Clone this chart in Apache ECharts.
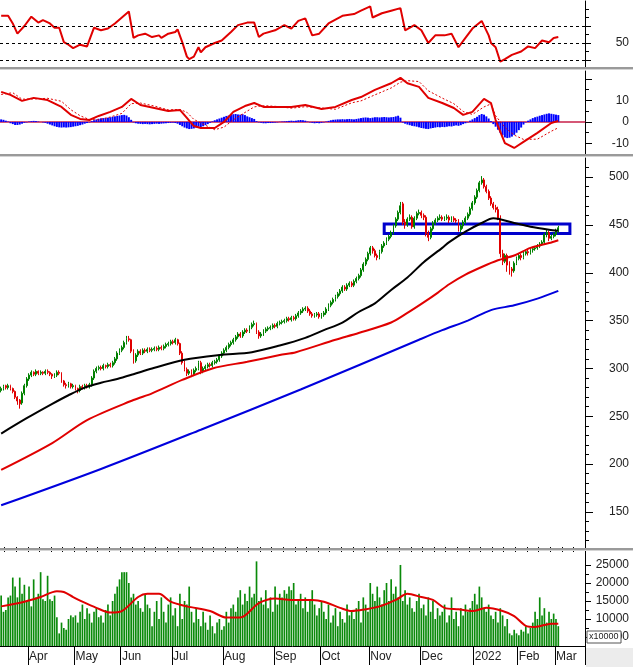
<!DOCTYPE html>
<html>
<head>
<meta charset="utf-8">
<script src="https://cdn.jsdelivr.net/npm/echarts@6/dist/echarts.min.js"></script>
<style>
html, body { margin: 0; padding: 0; background: #fff; }
#main { width: 633px; height: 667px; }
</style>
</head>
<body>
<div id="main"></div>
<script>
// x axis: one slot per trading day, month labels at the first day of each month
var monthLabels = ['Apr', 'May', 'Jun', 'Jul', 'Aug', 'Sep', 'Oct', 'Nov', 'Dec', '2022', 'Feb', 'Mar'];
var monthStart = [12, 32, 52, 74, 96, 118, 138, 159, 181, 204, 223, 239];
var slotCount = 252;

// daily prices
var opens = [
    277,279,282,280,282,279,276,270,267,264, 274,282,289,293,296,294,297,295,296,295,
    297,296,294,292,293,296,295,287,283,282, 284,281,282,279,277,281,280,282,281,283,
    290,297,300,301,300,303,302,304,303,306, 310,316,319,322,327,331,330,318,308,314,
    318,316,319,318,320,319,320,321,320,322, 321,323,325,326,328,327,330,326,316,306,
    299,295,297,294,298,300,306,297,300,302, 304,303,306,307,309,313,316,319,322,325,
    327,330,333,336,334,338,340,339,343,346, 347,338,334,336,339,341,342,343,345,344,
    347,348,349,350,352,351,353,352,355,358, 360,362,363,360,357,355,356,357,354,356,
    358,362,366,369,372,375,378,381,385,383, 387,389,387,391,394,397,403,409,414,420,
    426,423,418,416,422,428,431,435,438,442, 449,456,463,472,453,450,456,458,448,457,
    462,463,460,458,441,437,446,452,455,457, 458,456,457,458,455,457,455,454,445,449,
    453,457,461,467,473,479,486,494,497,490, 485,478,472,468,466,457,420,412,418,408,
    404,402,410,415,418,416,420,422,421,424, 425,426,428,430,432,440,442,436,438,440,444
];
var closes = [
    279,281,280,282,279,276,270,266,263,274, 282,289,293,296,294,297,295,296,295,297,
    296,294,292,293,296,295,287,283,282,284, 281,282,279,277,281,280,282,281,283,290,
    297,300,301,300,303,302,304,303,306,310, 316,319,322,327,331,330,318,308,314,318,
    316,319,318,320,319,320,321,320,322,321, 323,325,326,328,327,330,326,316,306,299,
    295,297,294,298,300,306,297,300,302,304, 303,306,307,309,313,316,319,322,325,327,
    330,333,336,334,338,340,339,343,346,347, 338,334,336,339,341,342,343,345,344,347,
    348,349,350,352,351,353,352,355,358,360, 362,363,360,357,355,356,357,354,356,358,
    362,366,369,372,375,378,381,385,383,387, 389,387,391,394,397,403,409,414,420,426,
    423,418,416,422,428,431,435,438,442,449, 456,463,470,453,450,456,458,448,457,462,
    463,460,458,441,437,446,452,455,457,458, 456,457,458,455,457,455,454,445,449,453,
    457,461,467,473,479,486,494,497,490,485, 478,472,468,466,457,420,412,418,408,404,
    402,410,415,418,416,420,422,421,424,425, 426,428,430,432,440,442,436,438,440,444,447
];
var lows = [
    275,277,278,278,277,274,268,262,258,262, 272,280,287,291,292,292,293,293,293,293,
    294,292,289,290,291,293,285,281,279,280, 279,279,277,274,275,278,278,279,279,281,
    288,295,298,298,298,300,300,301,301,304, 308,314,317,320,325,328,316,305,306,312,
    314,314,316,316,317,317,318,318,318,319, 319,321,323,324,325,325,324,314,304,297,
    292,293,291,292,296,298,294,295,298,300, 301,301,304,305,307,311,314,317,320,323,
    325,328,331,332,332,336,337,337,341,344, 336,331,332,334,337,339,340,341,342,342,
    345,346,347,348,349,349,350,350,353,356, 358,360,358,355,353,353,354,352,352,354,
    356,360,364,367,370,373,376,379,381,381, 385,385,385,389,392,395,401,407,412,418,
    420,416,413,414,420,426,429,433,436,440, 447,454,461,450,446,448,454,446,446,455,
    460,457,455,438,433,435,444,450,453,455, 454,454,455,452,453,453,452,443,442,446,
    451,455,459,465,471,477,484,492,488,483, 476,470,466,463,455,416,408,410,401,398,
    396,400,408,413,413,414,418,418,419,421, 423,424,426,428,430,437,433,434,436,438,442
];
var highs = [
    281,283,283,284,283,280,277,271,268,276, 284,291,295,298,297,299,298,298,297,299,
    299,297,295,295,298,298,296,288,285,286, 285,284,283,280,283,283,284,284,285,292,
    299,302,303,303,305,304,306,306,308,312, 318,321,324,329,334,334,331,320,316,320,
    320,321,321,322,322,322,323,323,324,324, 325,327,328,330,330,332,331,327,318,308,
    301,299,299,300,302,308,308,302,304,306, 306,308,309,311,315,318,321,324,327,329,
    332,335,338,338,340,342,342,345,348,350, 348,340,338,341,343,344,345,347,347,349,
    350,351,352,354,354,355,355,357,360,362, 364,365,365,362,359,358,359,359,358,360,
    364,368,371,374,377,380,383,387,387,389, 391,391,393,396,399,405,411,416,422,428,
    428,425,420,424,430,433,437,440,444,451, 458,465,474,474,456,458,461,460,459,464,
    466,465,462,460,444,448,454,457,459,461, 460,459,461,460,459,459,457,456,451,455,
    459,463,469,475,481,488,496,501,499,492, 487,480,474,471,469,460,424,420,420,412,
    406,412,417,420,420,422,424,425,426,427, 428,430,432,434,442,445,444,440,442,446,449
];

// moving averages on the price panel, read as [day, value]
var maBlack = [[0,232],[11,248],[22,263],[29,272],[36,280],[43,285],[50,289],[57,294],[65,300],[79,309],
    [94,314],[108,317],[120,324],[131,332],[139,340],[147,348],[154,359],[161,368],[168,382],[175,395],
    [182,411],[190,426],[193,432],[200,443],[207,452],[212,457],[221,452],[228,448],[236,445],[240,444]];
var maRed = [[0,194],[22,222],[37,246],[57,267],[65,274],[78,288],[91,300],[106,307],[120,314],[127,317],
    [144,330],[154,337],[168,348],[175,358],[182,369],[188,379],[193,388],[200,398],[207,406],[214,413],
    [221,418],[228,426],[236,431],[240,434]];
var maBlue = [[0,157],[43,195],[86,236],[129,278],[180,330],[190,340],[201,350],[211,361],[221,366],
    [231,373],[240,381]];

// resistance zone box
var zoneFrom = 165, zoneTo = 245, zoneLow = 441, zoneHigh = 451;

// RSI
var rsiPts = [[0,82],[3,82],[5,73],[7,61],[10,70],[13,81],[16,74],[18,77],[21,73],[23,68],[25,68],[27,51],
    [29,48],[31,44],[34,48],[37,46],[40,68],[43,65],[46,67],[49,73],[52,80],[55,87],[57,56],[59,59],
    [62,61],[65,57],[68,59],[69,56],[72,61],[75,63],[76,66],[78,51],[80,34],[81,31],[83,34],[85,45],
    [86,39],[88,45],[92,50],[95,53],[99,63],[102,71],[106,74],[109,74],[111,57],[113,61],[118,65],
    [122,71],[125,67],[128,76],[131,79],[134,59],[137,61],[141,73],[147,82],[152,84],[155,88],[159,93],
    [160,80],[164,85],[168,88],[172,91],[174,65],[178,71],[181,65],[184,50],[187,59],[191,59],[194,61],
    [197,45],[200,56],[203,67],[207,76],[210,59],[211,50],[213,45],[215,28],[217,31],[220,36],[224,40],
    [227,46],[230,44],[233,53],[236,51],[238,56],[240,57]];
var rsiLevels = [30, 50, 70];

// MACD
var macdPts = [[0,14],[4,12.6],[9,9.8],[14,11.2],[20,10.2],[26,7],[30,3.3],[34,1.4],[38,0.9],[42,2.8],
    [47,4.7],[52,7],[56,10.7],[60,7.9],[66,6.5],[72,5.1],[77,5.6],[80,1.9],[83,-1.9],[86,-2.8],[92,-2.8],
    [96,0],[100,4.7],[105,7.4],[109,8.8],[113,7],[119,7],[125,7],[131,7.9],[138,6],[144,7],[151,10.2],
    [155,11.6],[161,14.9],[168,18],[172,20.5],[175,18],[180,16.3],[184,11.2],[190,8.8],[195,6.5],[199,3.3],
    [203,4.7],[208,10.7],[211,8.8],[213,0.9],[217,-9.8],[221,-12.1],[225,-9.3],[231,-5.1],[237,-0.5],[240,0.5]];
var signalPts = [[0,12.8],[5,13.6],[9,10.6],[14,10.7],[20,11],[26,9.6],[30,5.7],[34,2.9],[38,1.1],[42,1.0],
    [47,2.3],[52,4.0],[56,8.5],[60,8.8],[66,7.4],[72,5.6],[77,5.8],[80,4.5],[83,1.2],[86,-0.5],[92,-3.6],
    [96,-2.4],[100,1.0],[105,4.4],[109,7.0],[113,7.6],[119,7.2],[125,6.4],[131,7.1],[138,6.5],[144,5.9],
    [151,8.9],[155,9.8],[161,12.6],[168,15.8],[172,18.5],[175,19.2],[180,18.8],[184,14.5],[190,11.1],
    [195,8.5],[199,4.9],[203,3.5],[208,7.0],[211,8.4],[213,2.9],[217,-2.6],[221,-6.1],[225,-8.1],[231,-8.0],
    [237,-4.3],[240,-2.7]];
var macdHist = [
    1.2,1.0,0.6,0.2, -0.6,-1.0,-1.4,-1.4,-1.2,-0.8,-0.4,-0.2, 0.2,0.4,0.5,0.4,0.2, 0.0,-0.2,-0.4,
    -0.8,-1.2,-1.6,-2.0,-2.3,-2.5,-2.6,-2.5,-2.6,-2.5,-2.4,-2.2,-2.0,-1.8,-1.5,-1.2,-0.8,-0.5,-0.2,
    0.4,0.8,1.2,1.5,1.7,1.8,1.9,2.0,2.2,2.4,2.6,2.8,3.0,3.2,3.3,3.0,2.2,1.0,
    -0.2,-0.6,-0.8,-0.9,-1.0,-0.9,-1.0,-1.1,-1.0,-0.9,-0.8,-0.9,-0.8,-0.7,-0.6,-0.5,-0.4,
    -0.3,-0.5,-0.8,-1.4, -2.0,-2.6,-3.0,-3.3,-3.2,-3.0,-2.6,-2.2,-2.5,-2.0,-1.5,-1.0,-0.4,
    0.3,0.8,1.2,1.6,2.0,2.4,2.8,3.0,3.3,3.6,3.7,3.5,3.4,3.6,3.2,2.6,2.2,1.8,1.4,0.4,-0.2,-0.4,
    -0.6,-0.6,-0.5,-0.5,-0.4,-0.3,-0.2, 0.1,0.2,0.3,0.4,0.5,0.6,0.5,0.6,0.8,0.9,0.8,0.6,0.2,-0.2,
    -0.4,-0.6,-0.5,-0.6,-0.4,-0.2,0.2,
    0.5,0.8,1.0,1.1,1.2,1.2,1.3,1.2,1.3,1.4,1.3,1.2,1.4,1.6,1.8,2.0,2.1,2.0,1.8,2.0,
    2.2,2.2,2.1,2.2,2.3,2.2,2.1,2.2,2.3,2.6,2.9,2.0,
    -0.3,-0.8,-1.2,-1.5,-1.8,-2.0,-2.2,-2.5,-2.8,-3.0,-3.2,-3.3,-3.0,-2.8,-2.6,-2.4,-2.5,-2.3,-2.4,-2.2,
    -2.0,-2.1,-1.8,-1.6,-1.8,-1.5,-1.0,-0.6,-0.2,
    0.6,1.2,1.8,2.4,3.2,3.7,3.4,2.6,1.6,0.4,
    -1.0,-2.2,-3.6,-5.0,-6.2,-7.2,-7.5,-7.3,-6.8,-6.0,-5.0,-3.8,-2.6,-1.2,
    -0.2,0.6,1.2,1.8,2.2,2.5,2.9,3.2,3.5,3.8,4.0,3.8,3.6,3.4,3.2
];

// volume
var volume = [
    16500,12000,12500,16000,16500,21500,19000,16000,21500,17000, 19500,15000,19000,13500,21000,16000,17000,23000,15500,15000,
    22000,15500,15000,16500,10500,6000,9000,7500,7000,10000, 11000,10500,11000,9000,12000,14000,10000,13000,11500,9000,
    12000,13000,10500,11000,9000,12500,14000,11000,15000,17000, 19000,21000,23000,23000,23000,20000,16000,17000,14000,15000,
    13000,12000,17000,14000,13000,8000,12000,15000,10000,16000, 12000,9000,14000,16000,11000,13000,8000,17000,10000,15000,
    14000,19000,12000,9000,13000,10000,8000,12000,9000,7000, 11000,8000,6000,9000,10000,7000,8000,12000,9000,13000,
    14000,12000,16000,18000,14000,17000,15000,19000,16000,17000, 26000,15000,16000,14000,18000,13000,16000,12000,19000,14000,
    17000,16000,18000,17000,19000,18000,20000,14000,15000,17000, 13000,16000,12000,15000,18000,14000,11000,13000,15000,12000,
    10000,14000,9000,11000,13000,8000,12000,10000,9000,14000, 11000,12000,10000,13000,15000,9000,16000,14000,12000,20000,
    17000,15000,19000,16000,14000,18000,20000,15000,21000,17000, 19000,16000,25000,15000,18000,14000,16000,13000,12000,15000,
    17000,13000,14000,11000,16000,12000,15000,10000,13000,11000, 12000,14000,9000,11000,16000,10000,12000,8000,13000,11000,
    14000,12000,13000,15000,17000,14000,19000,16000,13000,12000, 14000,11000,10000,12000,9000,13000,11000,8000,10000,6000,
    5500,7000,6000,5500,7000,6500,8000,6000,7500,9000, 12000,10000,16000,11000,13000,9000,12000,10000,11500,10000,8000
];
var volMa = [[0,13500],[10,14800],[17,16100],[24,17700],[27,17500],[31,16100],[35,14800],[41,13100],[47,11800],
    [52,12200],[59,16100],[63,17000],[68,17000],[73,14800],[80,13500],[90,12200],[97,10400],[103,10400],
    [111,14400],[118,15700],[125,15300],[134,15300],[139,14800],[146,13100],[151,12200],[157,12700],
    [163,13500],[170,15300],[175,17000],[181,16100],[186,15300],[191,13100],[197,12700],[203,12200],
    [209,13100],[216,12200],[221,10800],[226,8100],[230,7800],[237,8700],[240,8700]];

// axis labels
var priceTicks = [150, 200, 250, 300, 350, 400, 450, 500];
var volTicks = [5000, 10000, 15000, 20000, 25000];
var volLabels = [10000, 15000, 20000, 25000];  // 5000 sits under the x10000 box
var macdTicks = [-10, 0, 10];

var cats = [];
for (var i = 0; i < slotCount; i++) cats.push(String(i));
var candles = [];
for (var k = 0; k < closes.length; k++) candles.push([opens[k], closes[k], lows[k], highs[k]]);

var priceMinor = [];
for (var p = 120; p <= 510; p += 10) if (p % 50 != 0) priceMinor.push(p);

var FONT = 'Liberation Sans';
var RED = '#e00000';

function hiddenX(grid) {
    return { type: 'category', gridIndex: grid, data: cats, show: false };
}
function rightY(grid, min, max, ticks, labels, len) {
    return {
        type: 'value', gridIndex: grid, position: 'right', min: min, max: max,
        splitLine: { show: false },
        axisLine: { show: true, lineStyle: { color: '#000', width: 1 } },
        axisTick: { show: true, length: len, customValues: ticks, lineStyle: { color: '#000' } },
        axisLabel: {
            show: labels.length > 0, customValues: labels, align: 'right', margin: 44,
            color: '#222', fontFamily: FONT, fontSize: 12,
            formatter: function (v) { return String(v); }
        }
    };
}
function minorY(grid, min, max, ticks) {
    return {
        type: 'value', gridIndex: grid, position: 'right', min: min, max: max,
        splitLine: { show: false }, axisLine: { show: false }, axisLabel: { show: false },
        axisTick: { show: true, length: 4, customValues: ticks, lineStyle: { color: '#000' } }
    };
}

var myChart = echarts.init(document.getElementById('main'), null, { renderer: 'canvas' });
var option = {
    animation: false,
    backgroundColor: '#fff',
    grid: [
        { left: 0, right: 48, top: 1, height: 66 },
        { left: 0, right: 48, top: 71, height: 83 },
        { left: 0, right: 48, top: 158, height: 390 },
        { left: 0, right: 48, top: 552, height: 94 }
    ],
    xAxis: [
        hiddenX(0),
        {
            type: 'category', gridIndex: 1, data: cats,
            axisLine: { show: true, onZero: true, lineStyle: { color: '#c8204a', width: 1.5 } },
            axisTick: { show: false }, axisLabel: { show: false }
        },
        hiddenX(2),
        {
            type: 'category', gridIndex: 3, data: cats,
            axisLine: { show: true, lineStyle: { color: '#000' } },
            axisTick: {
                show: true, length: 19, lineStyle: { color: '#000' },
                interval: function (idx) { return monthStart.indexOf(idx) >= 0; }
            },
            axisLabel: {
                show: true, align: 'left', margin: 5, color: '#222', fontFamily: FONT, fontSize: 12,
                interval: function (idx) { return monthStart.indexOf(idx) >= 0; },
                formatter: function (v, idx) { return monthLabels[monthStart.indexOf(Number(v))] || ''; }
            }
        },
        {
            type: 'category', gridIndex: 3, data: cats,
            axisLine: { show: false }, axisLabel: { show: false },
            axisTick: {
                show: true, length: 5, lineStyle: { color: '#000' },
                interval: function (idx) { return idx % 5 == 2; }
            }
        }
    ],
    yAxis: [
        rightY(0, 21.8, 99.4, [30, 50, 70], [50], 6),
        minorY(0, 21.8, 99.4, [40, 60, 80, 90]),
        rightY(1, -14.9, 23.7, [-10, 0, 10, 20], macdTicks, 7),
        minorY(1, -14.9, 23.7, [-5, 5, 15]),
        rightY(2, 112.4, 519.9, priceTicks, priceTicks, 8),
        minorY(2, 112.4, 519.9, priceMinor),
        rightY(3, 2500, 28600, volTicks, volLabels, 6),
        minorY(3, 2500, 28600, [7500, 12500, 17500, 22500])
    ],
    series: [
        {
            name: 'RSI', type: 'line', xAxisIndex: 0, yAxisIndex: 0, data: rsiPts,
            symbol: 'none', lineStyle: { color: RED, width: 2 },
            markLine: {
                silent: true, symbol: ['none', 'none'], label: { show: false },
                lineStyle: { color: '#000', type: [3, 3], width: 1 },
                data: rsiLevels.map(function (v) { return { yAxis: v }; })
            }
        },
        {
            name: 'hist', type: 'bar', xAxisIndex: 1, yAxisIndex: 2, data: macdHist,
            barWidth: '85%', itemStyle: { color: '#0000ff' }
        },
        {
            name: 'signal', type: 'line', xAxisIndex: 1, yAxisIndex: 2, data: signalPts,
            symbol: 'none', lineStyle: { color: RED, width: 1, type: [2, 2] }
        },
        {
            name: 'MACD', type: 'line', xAxisIndex: 1, yAxisIndex: 2, data: macdPts,
            symbol: 'none', lineStyle: { color: RED, width: 2 }
        },
        {
            name: 'MA blue', type: 'line', xAxisIndex: 2, yAxisIndex: 4, data: maBlue,
            symbol: 'none', smooth: 0.3, lineStyle: { color: '#0000dd', width: 2 }
        },
        {
            name: 'MA red', type: 'line', xAxisIndex: 2, yAxisIndex: 4, data: maRed,
            symbol: 'none', smooth: 0.3, lineStyle: { color: RED, width: 2 }
        },
        {
            name: 'MA black', type: 'line', xAxisIndex: 2, yAxisIndex: 4, data: maBlack,
            symbol: 'none', smooth: 0.3, lineStyle: { color: '#000', width: 2 }
        },
        {
            name: 'price', type: 'candlestick', xAxisIndex: 2, yAxisIndex: 4, data: candles,
            barWidth: '60%',
            itemStyle: {
                color: '#008000', color0: RED, borderColor: '#008000', borderColor0: RED, borderWidth: 1
            },
            markArea: {
                silent: true,
                itemStyle: { color: 'rgba(0,0,0,0)', borderColor: '#0000cc', borderWidth: 3 },
                data: [[{ xAxis: zoneFrom, yAxis: zoneHigh }, { xAxis: zoneTo, yAxis: zoneLow }]]
            }
        },
        {
            name: 'volume', type: 'bar', xAxisIndex: 3, yAxisIndex: 6, data: volume,
            barWidth: '72%', itemStyle: { color: '#0a8a0a' }
        },
        {
            name: 'vol MA', type: 'line', xAxisIndex: 3, yAxisIndex: 6, data: volMa,
            symbol: 'none', smooth: 0.3, lineStyle: { color: RED, width: 2 }
        }
    ],
    graphic: [
        { type: 'rect', left: 0, top: 67, shape: { width: 633, height: 2 }, style: { fill: '#9a9a9a' }, z: 50 },
        { type: 'rect', left: 0, top: 69, shape: { width: 633, height: 1 }, style: { fill: '#d4d4d4' }, z: 50 },
        { type: 'rect', left: 0, top: 154, shape: { width: 633, height: 2 }, style: { fill: '#9a9a9a' }, z: 50 },
        { type: 'rect', left: 0, top: 156, shape: { width: 633, height: 1 }, style: { fill: '#d4d4d4' }, z: 50 },
        { type: 'rect', left: 0, top: 548, shape: { width: 633, height: 2 }, style: { fill: '#9a9a9a' }, z: 50 },
        { type: 'rect', left: 0, top: 550, shape: { width: 633, height: 1 }, style: { fill: '#d4d4d4' }, z: 50 },
        { type: 'rect', left: 586, top: 648, shape: { width: 47, height: 19 }, style: { fill: '#ececec' }, z: 50 },
        // bottom volume label, partly hidden by the multiplier box
        {
            type: 'text', x: 629, y: 637, z: 55,
            style: { text: '5000', fill: '#222', font: '12px Liberation Sans', textAlign: 'right', textVerticalAlign: 'middle' }
        },
        { type: 'rect', x: 587, y: 631, z: 60, shape: { width: 34, height: 12 }, style: { fill: '#fff', stroke: '#555', lineWidth: 1 } },
        {
            type: 'text', x: 589, y: 637, z: 61,
            style: { text: 'x10000', fill: '#222', font: '9px Liberation Sans', textVerticalAlign: 'middle' }
        }
    ]
};
myChart.setOption(option);
window.addEventListener('resize', function () {
    myChart.resize();
});
</script>
</body>
</html>
